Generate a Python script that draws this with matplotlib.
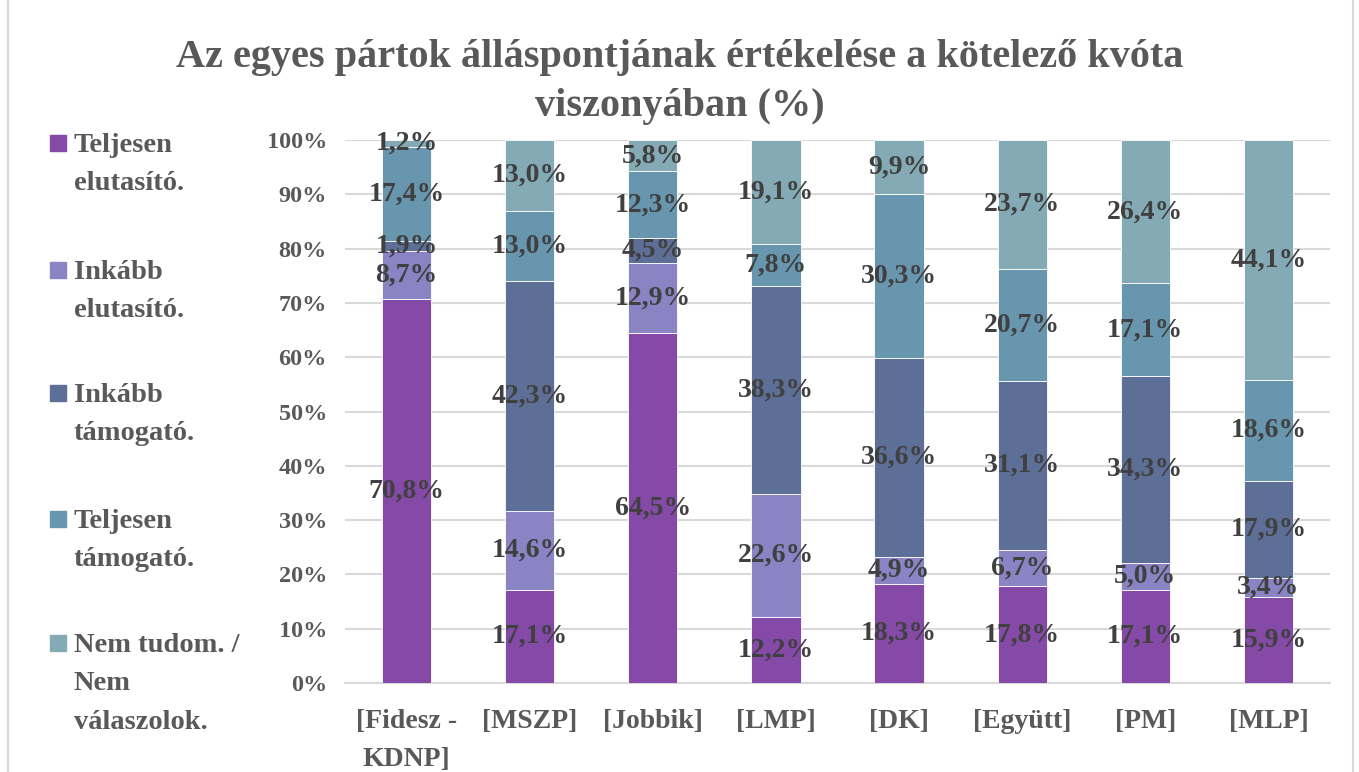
import matplotlib
matplotlib.use("Agg")
import matplotlib.pyplot as plt
import numpy as np
from matplotlib.patches import Rectangle

# data
parties = ["[Fidesz -\nKDNP]", "[MSZP]", "[Jobbik]", "[LMP]", "[DK]", "[Együtt]", "[PM]", "[MLP]"]
series = ["Teljesen\nelutasító.", "Inkább\nelutasító.", "Inkább\ntámogató.",
          "Teljesen\ntámogató.", "Nem tudom. /\nNem\nválaszolok."]
teljesen_elutasito = [70.8, 17.1, 64.5, 12.2, 18.3, 17.8, 17.1, 15.9]
inkabb_elutasito = [8.7, 14.6, 12.9, 22.6, 4.9, 6.7, 5.0, 3.4]
inkabb_tamogato = [1.9, 42.3, 4.5, 38.3, 36.6, 31.1, 34.3, 17.9]
teljesen_tamogato = [17.4, 13.0, 12.3, 7.8, 30.3, 20.7, 17.1, 18.6]
nem_tudom = [1.2, 13.0, 5.8, 19.1, 9.9, 23.7, 26.4, 44.1]
colors = ["#8549A8", "#8A83C4", "#5E6F97", "#6896AF", "#84ABB5"]

FONT = "Liberation Serif"
TXT = "#595959"
LBL = "#404040"

values = np.array([teljesen_elutasito, inkabb_elutasito, inkabb_tamogato,
                   teljesen_tamogato, nem_tudom])
totals = values.sum(axis=0)
shares = values / totals

W, H = 1359, 772
fig = plt.figure(figsize=(W / 100, H / 100), dpi=100)
ax = fig.add_axes([345 / W, 1 - 683 / H, 985 / W, 543 / H])

x = np.arange(len(parties))
bottom = np.zeros(len(parties))
for i, name in enumerate(series):
    ax.bar(x, shares[i], 0.4, bottom=bottom, color=colors[i],
           edgecolor="white", linewidth=0.6, zorder=3)
    for j in range(len(parties)):
        ax.text(x[j], bottom[j] + shares[i][j] / 2,
                f"{values[i][j]:.1f}%".replace(".", ","),
                ha="center", va="center", fontsize=20, fontweight="bold",
                family=FONT, color=LBL, zorder=4)
    bottom += shares[i]

ax.set_xlim(-0.5, len(parties) - 0.5)
ax.set_ylim(0, 1)
ax.set_yticks(np.arange(0, 1.01, 0.1))
ax.set_yticklabels([f"{v}%" for v in range(0, 101, 10)])
ax.set_xticks(x)
ax.set_xticklabels(parties, linespacing=1.65)
ax.grid(axis="y", color="#D9D9D9", linewidth=1.5, zorder=0)
for s in ["top", "right", "left"]:
    ax.spines[s].set_visible(False)
ax.spines["bottom"].set_color("#D9D9D9")
ax.spines["bottom"].set_linewidth(1.5)
ax.tick_params(length=0)
ax.tick_params(axis="x", pad=19)
ax.tick_params(axis="y", pad=13)
for t in ax.get_xticklabels():
    t.set_fontsize(20)
for t in ax.get_yticklabels():
    t.set_fontsize(17.5)
for t in ax.get_xticklabels() + ax.get_yticklabels():
    t.set_family(FONT)
    t.set_fontweight("bold")
    t.set_color(TXT)

fig.text(0.5, 1 - 82 / H,
         "Az egyes pártok álláspontjának értékelése a kötelező kvóta\nviszonyában (%)",
         ha="center", va="center", fontsize=29, fontweight="bold",
         family=FONT, color=TXT, linespacing=1.4)

# legend drawn by hand: square beside first line of each label
first_lines = [143, 270, 393, 519, 643]
for i, name in enumerate(series):
    yc = first_lines[i]
    fig.patches.append(Rectangle((50 / W, 1 - (yc + 8) / H), 16 / W, 16 / H,
                                 transform=fig.transFigure, color=colors[i]))
    fig.text(74 / W, 1 - (yc - 10) / H, name, ha="left", va="top",
             fontsize=20.5, fontweight="bold", family=FONT, color=TXT,
             linespacing=1.7)

# chart frame
fig.patches.append(Rectangle((8 / W, -0.01), 1345 / W, 1.02, transform=fig.transFigure,
                             fill=False, edgecolor="#D9D9D9", linewidth=1.5))

fig.savefig("out.png", dpi=100)
